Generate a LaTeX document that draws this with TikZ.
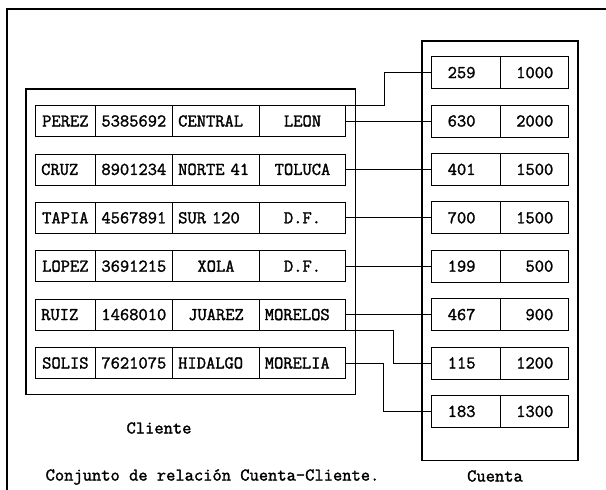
\documentclass[tikz,border=0pt]{standalone}
\usepackage{fontspec}
\newfontfamily\monoancha{Latin Modern Mono}[FakeBold=1.6]
\newcommand{\letra}{\fontsize{18}{18}\selectfont\monoancha}
\tikzset{every picture/.style={line width=1pt}}
\tikzset{
  celda/.style={draw, inner xsep=5.5pt, inner ysep=0pt, minimum height=31pt, text height=10.8pt, text depth=0pt, font=\letra},
  ca/.style={celda, minimum width=59.3pt},
  cb/.style={celda, minimum width=77.7pt},
  cc/.style={celda, minimum width=86.6pt},
  cd/.style={celda, minimum width=86.4pt},
  izq/.style={text width=#1, align=left},
  ka/.style={celda, minimum width=68.6pt, minimum height=32pt, inner xsep=16pt, text width=36.6pt, align=left},
  kb/.style={celda, minimum width=68pt, minimum height=32pt, inner xsep=15pt, text width=38pt, align=right},
  caja/.style={draw, line width=1.2pt}
}

\begin{document}
\begin{tikzpicture}[x=1pt,y=1pt,yscale=-1]
        \useasboundingbox (0,0) rectangle (606,490);
        % marco y conjuntos
        \draw [caja] (606,9) -- (7,9) -- (7,490) ;
        \draw [caja] (26,89) rectangle (355.5,394.5) ;
        \draw [caja] (422,41) rectangle (578,460.5) ;
        % Cliente
        \node [ca] (c1a) at (65.35,121.1) {PEREZ};
        \node [cb] (c1b) at (133.85,121.1) {5385692};
        \node [cc,izq=75.6pt] (c1c) at (216,121.1) {CENTRAL};
        \node [cd] (c1d) at (302.5,121.1) {LEON};
        \node [ca,izq=48.3pt] (c2a) at (65.35,169.5) {CRUZ};
        \node [cb] (c2b) at (133.85,169.5) {8901234};
        \node [cc,izq=75.6pt] (c2c) at (216,169.5) {NORTE 41};
        \node [cd] (c2d) at (302.5,169.5) {TOLUCA};
        \node [ca] (c3a) at (65.35,217.9) {TAPIA};
        \node [cb] (c3b) at (133.85,217.9) {4567891};
        \node [cc,izq=75.6pt] (c3c) at (216,217.9) {SUR 120};
        \node [cd] (c3d) at (302.5,217.9) {D.F.};
        \node [ca] (c4a) at (65.35,266.3) {LOPEZ};
        \node [cb] (c4b) at (133.85,266.3) {3691215};
        \node [cc] (c4c) at (216,266.3) {XOLA};
        \node [cd] (c4d) at (302.5,266.3) {D.F.};
        \node [ca,izq=48.3pt] (c5a) at (65.35,314.7) {RUIZ};
        \node [cb] (c5b) at (133.85,314.7) {1468010};
        \node [cc] (c5c) at (216,314.7) {JUAREZ};
        \node [cd,izq=75.4pt] (c5d) at (302.5,314.7) {MORELOS};
        \node [ca] (c6a) at (65.35,363.1) {SOLIS};
        \node [cb] (c6b) at (133.85,363.1) {7621075};
        \node [cc,izq=75.6pt] (c6c) at (216,363.1) {HIDALGO};
        \node [cd,izq=75.4pt] (c6d) at (302.5,363.1) {MORELIA};
        % Cuenta
        \node [ka] (k1a) at (466,72.7) {259};
        \node [kb] (k1b) at (534.3,72.7) {1000};
        \node [ka] (k2a) at (466,121.1) {630};
        \node [kb] (k2b) at (534.3,121.1) {2000};
        \node [ka] (k3a) at (466,169.5) {401};
        \node [kb] (k3b) at (534.3,169.5) {1500};
        \node [ka] (k4a) at (466,217.9) {700};
        \node [kb] (k4b) at (534.3,217.9) {1500};
        \node [ka] (k5a) at (466,266.3) {199};
        \node [kb] (k5b) at (534.3,266.3) {500};
        \node [ka] (k6a) at (466,314.7) {467};
        \node [kb] (k6b) at (534.3,314.7) {900};
        \node [ka] (k7a) at (466,363.1) {115};
        \node [kb] (k7b) at (534.3,363.1) {1200};
        \node [ka] (k8a) at (466,411.5) {183};
        \node [kb] (k8b) at (534.3,411.5) {1300};
        % relacion
        \draw (c1d.north east) -- ++(38.3,0) |- (k1a.west) ;
        \draw (c1d.east) -- (k2a.west) ;
        \draw (c2d.east) -- (k3a.west) ;
        \draw (c3d.east) -- (k4a.west) ;
        \draw (c4d.east) -- (k5a.west) ;
        \draw (c5d.east) -- (k6a.west) ;
        \draw (c5d.south east) -- ++(47.6,0) |- (k7a.west) ;
        \draw (c6d.east) -- ++(37.6,0) |- (k8a.west) ;
        % textos
        \node [font=\letra] (tcli) at (159,428) {Cliente};
        \node [font=\letra] (tcta) at (495,476) {Cuenta};
        \node [font=\letra] (tconj) at (212.5,477) {Conjunto de relación Cuenta-Cliente.};
\end{tikzpicture}
\end{document}
